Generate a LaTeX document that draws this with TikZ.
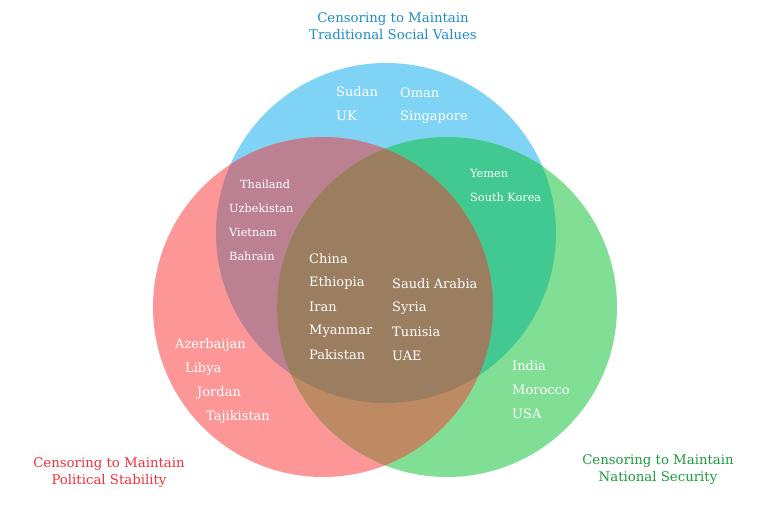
\documentclass[tikz,border=0pt]{standalone}
\usepackage{fontspec}
\setmainfont{DejaVu Serif}
\usetikzlibrary{positioning}
\definecolor{vnblue}{HTML}{7FD4F6}
\definecolor{vnred}{HTML}{FD9797}
\definecolor{vngreen}{HTML}{81DF95}
\definecolor{vnredblue}{HTML}{BB8193}
\definecolor{vnbluegreen}{HTML}{41C991}
\definecolor{vnredgreen}{HTML}{BE8A64}
\definecolor{vnall}{HTML}{9B7D60}
\definecolor{vnbluetext}{HTML}{1B8DC4}
\definecolor{vnredtext}{HTML}{F0303A}
\definecolor{vngreentext}{HTML}{1C9A3A}

\begin{document}
\begin{tikzpicture}[
  x=1pt,y=-1pt,
  country/.style={anchor=west,text=white,inner sep=0pt,font=\fontsize{13}{15}\selectfont},
  smallcountry/.style={country,font=\fontsize{11.3}{13}\selectfont},
  settitle/.style={align=center,inner sep=0pt,font=\fontsize{13.3}{17}\selectfont},
]
\useasboundingbox (0,0) rectangle (759,517);
% the three sets
\def\bluecirc{(386,233) circle (170pt)}
\def\redcirc{(323,307) circle (170pt)}
\def\greencirc{(447,307) circle (170pt)}
\fill[vnblue] \bluecirc;
\fill[vnred] \redcirc;
\fill[vngreen] \greencirc;
% pairwise overlaps
\begin{scope}
  \clip \bluecirc;
  \fill[vnredblue] \redcirc;
  \fill[vnbluegreen] \greencirc;
\end{scope}
\begin{scope}
  \clip \redcirc;
  \fill[vnredgreen] \greencirc;
\end{scope}
% all three
\begin{scope}
  \clip \bluecirc;
  \clip \redcirc;
  \fill[vnall] \greencirc;
\end{scope}

% set titles
\node[settitle,text=vnbluetext] (tblue) at (393,26) {Censoring to Maintain\\Traditional Social Values};
\node[settitle,text=vnredtext] (tred) at (109,473) {Censoring to Maintain\\Political Stability};
\node[settitle,text=vngreentext] (tgreen) at (658,470) {Censoring to Maintain\\National Security};

% blue only
\foreach \x/\y/\name in {336/92/Sudan, 336/116/UK, 400/93/Oman, 400/117/Singapore}
  \node[country] (\name) at (\x,\y) {\name};
% red and blue
\foreach \x/\y/\name in {240/184/Thailand, 229/208/Uzbekistan, 229/232/Vietnam, 229/256/Bahrain}
  \node[smallcountry] (\name) at (\x,\y) {\name};
% blue and green
\node[smallcountry] (yemen) at (470,173) {Yemen};
\node[smallcountry] (skorea) at (470,197) {South Korea};
% all three
\foreach \y/\name in {259/China, 283/Ethiopia, 307/Iran, 331/Myanmar, 355/Pakistan}
  \node[country] (\name) at (309,\y) {\name};
\foreach \y/\name/\id in {284/Saudi Arabia/saudi, 308/Syria/syria, 332/Tunisia/tunisia, 356/UAE/uae}
  \node[country] (\id) at (392,\y) {\name};
% red only
\foreach \x/\y/\name in {175/345/Azerbaijan, 185/369/Libya, 197/393/Jordan, 206/417/Tajikistan}
  \node[country] (\name) at (\x,\y) {\name};
% green only
\foreach \y/\name in {366/India, 390/Morocco, 414/USA}
  \node[country] (\name) at (512,\y) {\name};
\end{tikzpicture}
\end{document}
